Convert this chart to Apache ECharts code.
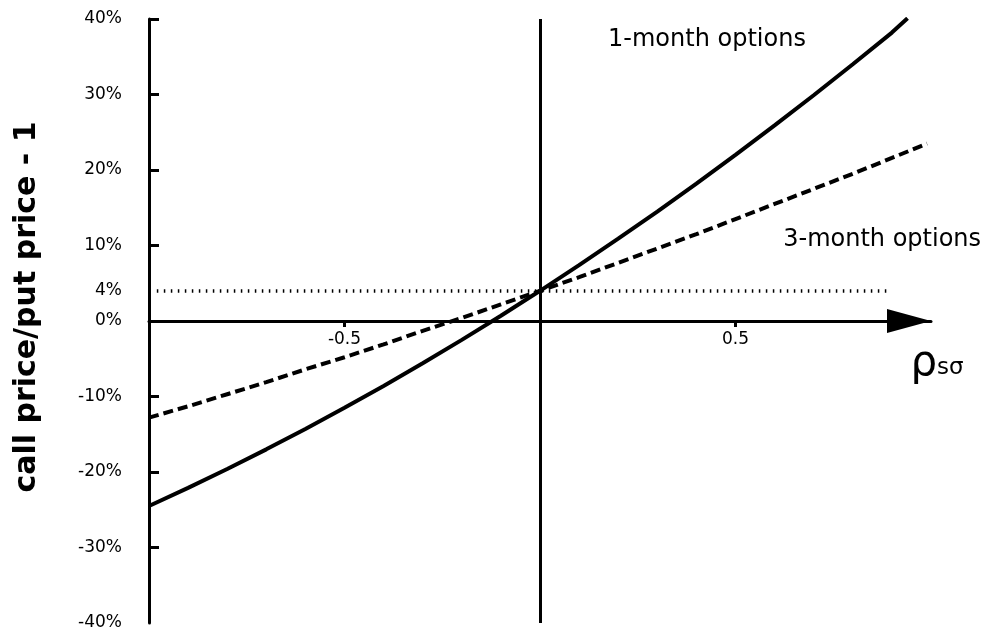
<!DOCTYPE html>
<html>
<head>
<meta charset="utf-8">
<script src="https://cdn.jsdelivr.net/npm/echarts@6/dist/echarts.min.js"></script>
<style>
  html, body { margin: 0; padding: 0; background: #fff; }
  #chart { width: 991px; height: 635px; }
</style>
</head>
<body>
<div id="chart"></div>
<script>
// Correlation between spot and volatility (x) and call/put price ratio minus one, in % (y)
const rhoOneMonth = [-1.0, -0.9, -0.8, -0.7, -0.6, -0.5, -0.4, -0.3, -0.2, -0.1, 0.0,
                     0.1, 0.2, 0.3, 0.4, 0.5, 0.6, 0.7, 0.8, 0.9, 0.94];
const oneMonth = [-24.5, -22.1, -19.6, -17.0, -14.3, -11.5, -8.6, -5.6, -2.5, 0.7, 4.0,
                  7.4, 10.9, 14.5, 18.2, 22.0, 25.9, 29.9, 34.0, 38.2, 40.1];

const rhoThreeMonth = [-1.0, -0.9, -0.8, -0.7, -0.6, -0.5, -0.4, -0.3, -0.2, -0.1, 0.0,
                       0.1, 0.2, 0.3, 0.4, 0.5, 0.6, 0.7, 0.8, 0.9, 0.99];
const threeMonth = [-12.8, -11.3, -9.7, -8.1, -6.4, -4.8, -3.1, -1.3, 0.4, 2.2, 4.0,
                    5.8, 7.7, 9.6, 11.5, 13.5, 15.5, 17.5, 19.5, 21.6, 23.5];

// Axis ticks and labels
const yLabelValues = [-40, -30, -20, -10, 0, 4, 10, 20, 30, 40];
const yTickValues = [-30, -20, -10, 10, 20, 30, 40];
const xLabelValues = [-0.5, 0.5];

// Put-call parity level (4%) and the rho span it is drawn over
const parityLevel = 4;
const paritySpan = [-0.98, 0.893];

const FONT = 'DejaVu Sans';
const BLACK = '#000';

const pairs = (xs, ys) => xs.map((x, i) => [x, ys[i]]);

const chart = echarts.init(document.getElementById('chart'), null, { renderer: 'canvas' });

chart.setOption({
  animation: false,
  backgroundColor: '#fff',
  grid: { left: 149, right: 60, top: 19, bottom: 12, containLabel: false, outerBoundsMode: 'none' },
  xAxis: {
    type: 'value',
    min: -1,
    max: 1,
    splitLine: { show: false },
    axisLine: {
      onZero: true,
      lineStyle: { color: BLACK, width: 3 },
      symbol: ['none', 'triangle'],
      symbolSize: [24, 44],
      symbolOffset: [0, -22]
    },
    axisTick: { show: true, inside: false, length: 6, customValues: xLabelValues,
                lineStyle: { color: BLACK, width: 3 } },
    axisLabel: { show: false },
    name: '{r|ρ}{s|sσ}',
    nameLocation: 'end',
    nameGap: 6,
    nameTextStyle: {
      align: 'center',
      verticalAlign: 'top',
      padding: [22, 0, 0, 0],
      color: BLACK,
      fontFamily: FONT,
      rich: {
        r: { fontSize: 42, fontFamily: FONT, color: BLACK, padding: [0, 0, 8, 0] },
        s: { fontSize: 23, fontFamily: FONT, color: BLACK }
      }
    }
  },
  yAxis: {
    type: 'value',
    min: -40,
    max: 40,
    interval: 10,
    splitLine: { show: false },
    axisLine: { onZero: false, lineStyle: { color: BLACK, width: 3 } },
    axisTick: { inside: true, length: 10, customValues: yTickValues,
                lineStyle: { color: BLACK, width: 3 } },
    axisLabel: { customValues: yLabelValues, formatter: '{value}%', margin: 27,
                 fontSize: 17, color: BLACK, fontFamily: FONT },
    name: 'call price/put price - 1',
    nameLocation: 'middle',
    nameGap: 107,
    nameTextStyle: { fontSize: 30, fontWeight: 'bold', fontFamily: FONT, color: BLACK,
                     padding: [0, 0, 0, 28] }
  },
  series: [
    {
      name: '1-month options',
      type: 'line',
      data: pairs(rhoOneMonth, oneMonth),
      showSymbol: false,
      lineStyle: { color: BLACK, width: 4 },
      z: 5,
      markLine: {
        silent: true,
        symbol: ['none', 'none'],
        label: { show: false },
        data: [
          { xAxis: 0, lineStyle: { type: 'solid', width: 3, color: BLACK } },
          [
            { coord: [paritySpan[0], parityLevel], lineStyle: { type: [1.5, 5.5], width: 3.5, color: BLACK } },
            { coord: [paritySpan[1], parityLevel], lineStyle: { type: [1.5, 5.5], width: 3.5, color: BLACK } }
          ]
        ]
      },
      markPoint: {
        silent: true,
        symbol: 'circle',
        symbolSize: 1,
        itemStyle: { color: 'rgba(0,0,0,0)' },
        label: { show: true, position: 'inside', formatter: '1-month options',
                 color: BLACK, fontSize: 24, fontFamily: FONT },
        data: [{ coord: [0.427, 37.2] }]
      }
    },
    {
      name: '3-month options',
      type: 'line',
      data: pairs(rhoThreeMonth, threeMonth),
      showSymbol: false,
      lineStyle: { color: BLACK, width: 4, type: [10, 5] },
      z: 5,
      markPoint: {
        silent: true,
        symbol: 'circle',
        symbolSize: 1,
        itemStyle: { color: 'rgba(0,0,0,0)' },
        label: { show: true, position: 'inside', formatter: '3-month options',
                 color: BLACK, fontSize: 24, fontFamily: FONT },
        data: [{ coord: [0.875, 10.7] }]
      }
    },
    {
      // rho tick labels, hung just under the zero line
      name: 'rho ticks',
      type: 'line',
      data: [],
      markPoint: {
        silent: true,
        symbol: 'circle',
        symbolSize: 1,
        itemStyle: { color: 'rgba(0,0,0,0)' },
        label: { show: true, position: 'inside', offset: [0, 19],
                 formatter: (p) => String(p.value),
                 color: BLACK, fontSize: 17, fontFamily: FONT },
        data: xLabelValues.map((v) => ({ coord: [v, 0], value: v }))
      }
    }
  ]
});
</script>
</body>
</html>
